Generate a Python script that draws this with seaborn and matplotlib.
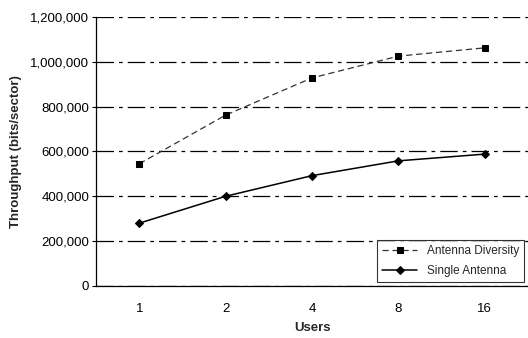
import pandas as pd
import matplotlib.pyplot as plt
import seaborn as sns
from matplotlib.ticker import FuncFormatter

users = ["1", "2", "4", "8", "16"]
antenna_diversity = [545000, 762000, 928000, 1025000, 1062000]
single_antenna = [280000, 400000, 492000, 558000, 588000]

df = pd.DataFrame({
    "Users": users * 2,
    "Throughput": antenna_diversity + single_antenna,
    "Series": ["Antenna Diversity"] * len(users) + ["Single Antenna"] * len(users),
})

sns.set_theme(style="white")
plt.rcParams["font.family"] = ["Liberation Sans", "DejaVu Sans"]

fig = plt.figure(figsize=(5.28, 3.38), dpi=100)
ax = fig.add_axes([0.182, 0.154, 0.818, 0.796])

# grid lines drawn like the scanned dash-dot pattern
for yv in range(0, 1200001, 200000):
    ax.axhline(yv, color="black", lw=0.9, ls=(0, (14, 4, 3, 4)), zorder=0)

sns.lineplot(data=df[df.Series == "Antenna Diversity"], x="Users", y="Throughput",
             ax=ax, color="#333333", lw=0.9, ls=(0, (5, 3)), marker="s", ms=5,
             markeredgecolor="black", markerfacecolor="black", label="Antenna Diversity")
sns.lineplot(data=df[df.Series == "Single Antenna"], x="Users", y="Throughput",
             ax=ax, color="black", lw=1.1, marker="D", ms=4,
             markeredgecolor="black", markerfacecolor="black", label="Single Antenna")

ax.set_xlim(-0.5, 4.5)
ax.set_ylim(0, 1200000)
ax.set_yticks(range(0, 1200001, 200000))
ax.yaxis.set_major_formatter(FuncFormatter(lambda v, p: f"{int(v):,}"))

for side in ["top", "right"]:
    ax.spines[side].set_visible(False)
ax.spines["left"].set_color("black")
ax.spines["bottom"].set_color("black")
ax.spines["left"].set_linewidth(0.9)
ax.spines["bottom"].set_linewidth(0.9)

ax.tick_params(axis="y", left=True, length=3, width=0.8, labelsize=9.5, colors="black", pad=2)
ax.tick_params(axis="x", bottom=False, labelsize=9.5, colors="black", pad=6)

ax.set_xlabel("Users", fontsize=9.5, fontweight="bold", labelpad=5)
ax.set_ylabel("Throughput (bits/sector)", fontsize=9.5, fontweight="bold", labelpad=6)

leg = ax.legend(loc="lower right", bbox_to_anchor=(1.0, 0.0), fontsize=8.5, frameon=True,
                fancybox=False, edgecolor="black", handlelength=3.0, borderpad=0.45,
                labelspacing=0.7, borderaxespad=0.3)
leg.get_frame().set_linewidth(0.8)

fig.savefig("out.png", dpi=100)
